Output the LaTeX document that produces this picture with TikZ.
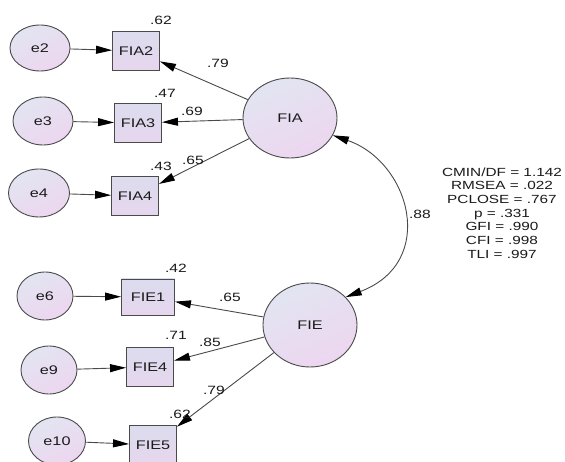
\documentclass[tikz,border=0pt]{standalone}
\usepackage{fontspec}
\setmainfont{Liberation Sans}[FakeStretch=1.3]
\usetikzlibrary{arrows.meta,shapes.geometric,calc}
\definecolor{edgegray}{HTML}{4A4A4A}
\definecolor{latA}{HTML}{E2E5F1}
\definecolor{latB}{HTML}{EDD6F0}
\definecolor{boxA}{HTML}{DCDCEE}
\definecolor{boxB}{HTML}{E6D6EE}
\definecolor{inkgray}{HTML}{1A1A1A}
\tikzset{
  latent/.style={ellipse, draw=edgegray, line width=0.9pt, inner sep=0pt,
    top color=latA, bottom color=latB, shading angle=25,
    font=\fontsize{12.5}{14}\selectfont, text=inkgray},
  obsbox/.style={rectangle, draw=edgegray, line width=0.9pt, inner sep=0pt,
    minimum width=47pt, minimum height=39pt,
    top color=boxA, bottom color=boxB,
    font=\fontsize{12.5}{14}\selectfont, text=inkgray},
  coef/.style={font=\fontsize{12}{14}\selectfont, text=inkgray, inner sep=0pt},
  path/.style={draw=edgegray, line width=0.9pt,
    -{Triangle[length=16pt,width=8pt,fill=black,color=black]}},
  covpath/.style={draw=edgegray, line width=0.9pt,
    {Triangle[length=16pt,width=8pt,fill=black,color=black]}-{Triangle[length=16pt,width=8pt,fill=black,color=black]}}
}
\begin{document}
\begin{tikzpicture}[x=1pt,y=-1pt]
\useasboundingbox (0,0) rectangle (565,462);
\clip (0,0) rectangle (565,462);
\fill[white] (0,0) rectangle (565,462);

% latent factors
\node[latent, minimum width=94pt, minimum height=80pt] (FIA) at (290,118) {FIA};
\node[latent, minimum width=94pt, minimum height=84pt] (FIE) at (310,325) {FIE};

% indicators of FIA
\node[obsbox] (FIA2) at (136,51) {FIA2};
\node[obsbox] (FIA3) at (138,123) {FIA3};
\node[obsbox] (FIA4) at (135,196) {FIA4};

% indicators of FIE
\node[obsbox, minimum width=53pt, minimum height=36pt] (FIE1) at (148,297) {FIE1};
\node[obsbox] (FIE4) at (150,367) {FIE4};
\node[obsbox] (FIE5) at (153,445) {FIE5};

% error terms
\node[latent, minimum width=60pt, minimum height=46pt] (e2) at (40,48) {e2};
\node[latent, minimum width=60pt, minimum height=48pt] (e3) at (43,121) {e3};
\node[latent, minimum width=61pt, minimum height=48pt] (e4) at (39,193) {e4};
\node[latent, minimum width=56pt, minimum height=48pt] (e6) at (45,296) {e6};
\node[latent, minimum width=56pt, minimum height=48pt] (e9) at (49,370) {e9};
\node[latent, minimum width=57pt, minimum height=48pt] (e10) at (57,441) {e10};

% error paths
\draw[path] (e2) -- (FIA2);
\draw[path] (e3) -- (FIA3);
\draw[path] (e4) -- (FIA4);
\draw[path] (e6) -- (FIE1);
\draw[path] (e9) -- (FIE4);
\draw[path] (e10) -- (FIE5);

% loadings
\draw[path] (FIA) -- (FIA2);
\draw[path] (FIA) -- (FIA3);
\draw[path] (FIA) -- (FIA4);
\draw[path] (FIE) -- (FIE1);
\draw[path] (FIE) -- (FIE4);
\draw[path] (FIE) -- (FIE5);

% factor covariance
\draw[covpath] (FIA.-22) .. controls (410,162) and (438,262) .. (FIE.38);

% squared multiple correlations and estimates
\node[coef] (r1) at (161,20) {.62};
\node[coef] (l1) at (218,63) {.79};
\node[coef] (r2) at (165,93) {.47};
\node[coef] (l2) at (192,111) {.69};
\node[coef] (r3) at (161,166) {.43};
\node[coef] (l3) at (193,160) {.65};
\node[coef] (r4) at (176,268) {.42};
\node[coef] (l4) at (230,297) {.65};
\node[coef] (r5) at (176,335) {.71};
\node[coef] (l5) at (210,342) {.85};
\node[coef] (l6) at (214,390) {.79};
\node[coef] (r6) at (180,414) {.62};
\node[coef] (cov) at (420,214) {.88};

% fit indices
\node[coef, align=center, font=\fontsize{11.8}{13.7}\selectfont] (fit) at (502,213)
  {CMIN/DF = 1.142\\RMSEA = .022\\PCLOSE = .767\\p = .331\\GFI = .990\\CFI = .998\\TLI = .997};
\end{tikzpicture}
\end{document}
